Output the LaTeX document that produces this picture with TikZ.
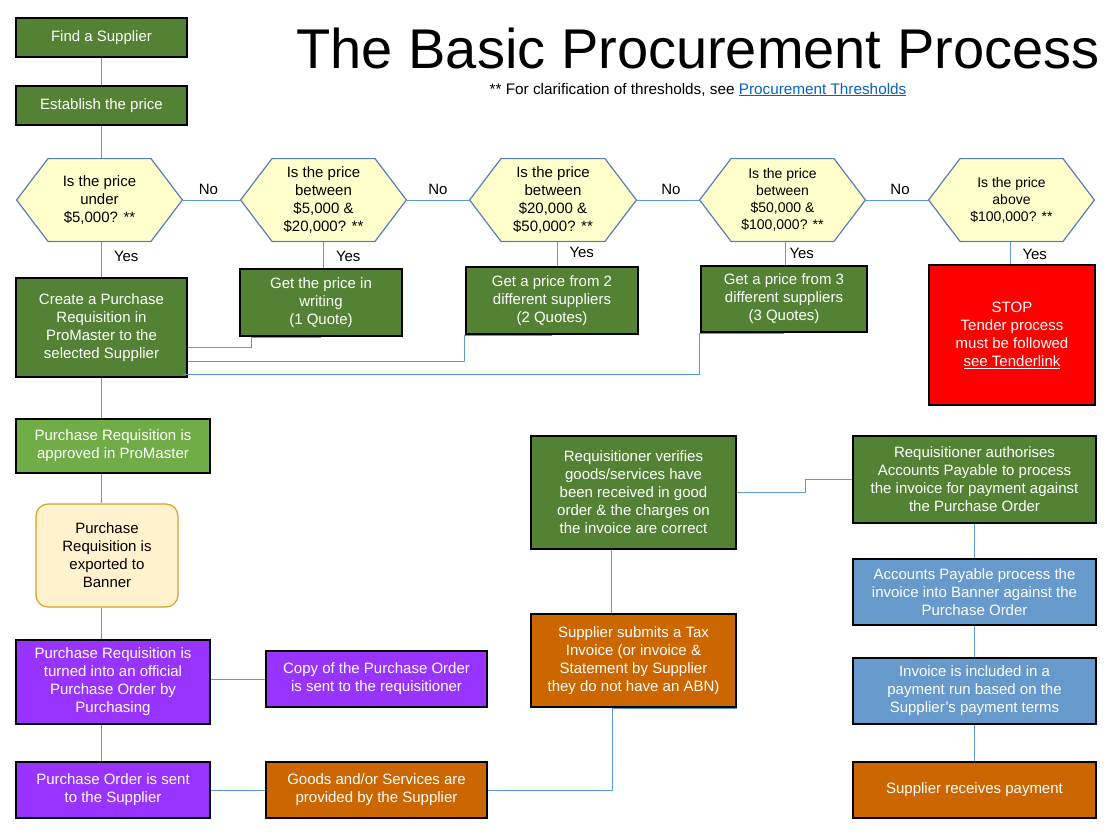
\documentclass[tikz,border=0pt]{standalone}
\usepackage{fontspec}
\setmainfont{Liberation Sans}
\usetikzlibrary{positioning}

\definecolor{boxgreen}{HTML}{548235}
\definecolor{lightgreen}{HTML}{70AD47}
\definecolor{boxpurple}{HTML}{9933FF}
\definecolor{boxorange}{HTML}{CC6600}
\definecolor{boxblue}{HTML}{6699CC}
\definecolor{stopred}{HTML}{FF0000}
\definecolor{hexfill}{HTML}{FFFFCC}
\definecolor{hexline}{HTML}{5A7DB5}
\definecolor{linkblue}{HTML}{5B9BD5}
\definecolor{creamfill}{HTML}{FFF2CC}
\definecolor{creamline}{HTML}{D6A12B}
\definecolor{urlblue}{HTML}{0563C1}

\tikzset{
  every node/.style={font=\fontsize{15}{18}\selectfont},
  procbox/.style={draw=black, line width=2.5pt, text=white, align=center, inner sep=0pt},
  hexq/.style={minimum width=167pt, minimum height=84pt, inner sep=0pt, align=center, text=black,
    path picture={\path[fill=hexfill, draw=hexline, line width=1.2pt]
      ([xshift=0.6pt]path picture bounding box.west)
      -- ([xshift=32pt,yshift=-0.6pt]path picture bounding box.north west)
      -- ([xshift=-32pt,yshift=-0.6pt]path picture bounding box.north east)
      -- ([xshift=-0.6pt]path picture bounding box.east)
      -- ([xshift=-32pt,yshift=0.6pt]path picture bounding box.south east)
      -- ([xshift=32pt,yshift=0.6pt]path picture bounding box.south west) -- cycle;}},
  smallq/.style={font=\fontsize{14}{17}\selectfont},
  link/.style={draw=linkblue, line width=1pt},
  lbl/.style={text=black, inner sep=2pt},
  nolbl/.style={lbl, above, inner sep=5pt},
  yeslbl/.style={lbl, right, inner sep=0pt, xshift=12pt}
}

\begin{document}
\begin{tikzpicture}[x=1pt, y=-1pt]
    \useasboundingbox[fill=white] (0,0) rectangle (1114,835);

    \node[anchor=base] (title) at (698,68) {\fontsize{56}{60}\selectfont The Basic Procurement Process};
    \node[anchor=base] (note) at (698,94) {\fontsize{15.3}{18}\selectfont ** For clarification of thresholds, see \textcolor{urlblue}{\underline{Procurement Thresholds}}};

    \node[procbox, fill=boxgreen, minimum width=171pt, minimum height=39pt] (find) at (101.5,37.5) {Find a Supplier};
    \node[procbox, fill=boxgreen, minimum width=171pt, minimum height=39pt] (est) at (101.5,105.5) {Establish the price};

    \node[hexq] (h1) at (99.5,200) {Is the price\\under\\\$5,000? **};
    \node[hexq] (h2) at (323.5,200) {Is the price\\between\\\$5,000 \&\\\$20,000? **};
    \node[hexq, minimum width=168pt] (h3) at (553,200) {Is the price\\between\\\$20,000 \&\\\$50,000? **};
    \node[hexq, smallq] (h4) at (782.5,200) {Is the price\\between\\\$50,000 \&\\\$100,000? **};
    \node[hexq, smallq] (h5) at (1011.5,200) {Is the price\\above\\\$100,000? **};

    \node[procbox, fill=boxgreen, minimum width=171pt, minimum height=99pt] (cpr) at (101.5,327.5) {Create a Purchase\\Requisition in\\ProMaster to the\\selected Supplier};
    \node[procbox, fill=boxgreen, minimum width=162pt, minimum height=67pt] (q1) at (321,302.5) {Get the price in\\writing\\(1 Quote)};
    \node[procbox, fill=boxgreen, minimum width=172pt, minimum height=67pt] (q2) at (552,300.5) {Get a price from 2\\different suppliers\\(2 Quotes)};
    \node[procbox, fill=boxgreen, minimum width=166pt, minimum height=66pt] (q3) at (784,299) {Get a price from 3\\different suppliers\\(3 Quotes)};
    \node[procbox, fill=stopred, minimum width=166pt, minimum height=140pt] (stop) at (1012,335) {STOP\\Tender process\\must be followed\\\underline{see Tenderlink}};

    \node[procbox, fill=lightgreen, minimum width=194pt, minimum height=54pt] (appr) at (113,446) {Purchase Requisition is\\approved in ProMaster};
    \node[draw=creamline, fill=creamfill, line width=1.2pt, rounded corners=12pt, align=center, inner sep=0pt, minimum width=142pt, minimum height=103pt] (expo) at (107,555.5) {Purchase\\Requisition is\\exported to\\Banner};
    \node[procbox, fill=boxpurple, minimum width=194pt, minimum height=84pt] (turn) at (113,682) {Purchase Requisition is\\turned into an official\\Purchase Order by\\Purchasing};
    \node[procbox, fill=boxpurple, minimum width=221pt, minimum height=56pt] (copy) at (376.5,679) {Copy of the Purchase Order\\is sent to the requisitioner};
    \node[procbox, fill=boxpurple, minimum width=194pt, minimum height=56pt] (posent) at (113,790) {Purchase Order is sent\\to the Supplier};
    \node[procbox, fill=boxorange, minimum width=221pt, minimum height=56pt] (goods) at (376.5,790) {Goods and/or Services are\\provided by the Supplier};

    \node[procbox, fill=boxgreen, minimum width=205pt, minimum height=113pt] (verif) at (633.5,492.5) {Requisitioner verifies\\goods/services have\\been received in good\\order \& the charges on\\the invoice are correct};
    \node[procbox, fill=boxorange, minimum width=205pt, minimum height=93pt] (subm) at (633.5,660.5) {Supplier submits a Tax\\Invoice (or invoice \&\\Statement by Supplier\\they do not have an ABN)};
    \node[procbox, fill=boxgreen, minimum width=243pt, minimum height=87pt] (auth) at (974.5,479.5) {Requisitioner authorises\\Accounts Payable to process\\the invoice for payment against\\the Purchase Order};
    \node[procbox, fill=boxblue, minimum width=243pt, minimum height=66pt] (approc) at (974.5,592) {Accounts Payable process the\\invoice into Banner against the\\Purchase Order};
    \node[procbox, fill=boxblue, minimum width=243pt, minimum height=66pt] (incl) at (974.5,691) {Invoice is included in a\\payment run based on the\\Supplier's payment terms};
    \node[procbox, fill=boxorange, minimum width=243pt, minimum height=56pt] (paid) at (974.5,790) {Supplier receives payment};

    \draw[link] (find.south) -- (est.north);
    \draw[link] (est.south) -- (est.south |- h1.north);
    \draw[link] (h1.east) -- node[nolbl, xshift=-3pt] {No} (h2.west);
    \draw[link] (h2.east) -- node[nolbl] {No} (h3.west);
    \draw[link] (h3.east) -- node[nolbl, xshift=3pt] {No} (h4.west);
    \draw[link] (h4.east) -- node[nolbl, xshift=3pt] {No} (h5.west);
    \draw[link] (cpr.north |- h1.south) -- node[yeslbl, pos=0.42] {Yes} (cpr.north);
    \draw[link] (h2.south) -- node[yeslbl, pos=0.55] {Yes} (h2.south |- q1.north);
    \draw[link] ([xshift=4pt]h3.south) -- node[yeslbl, pos=0.45] {Yes} ([xshift=4pt]h3.south |- q2.north);
    \draw[link] ([xshift=2.5pt]h4.south) -- node[yeslbl, xshift=-8pt, pos=0.5] {Yes} ([xshift=2.5pt]h4.south |- q3.north);
    \draw[link] ([xshift=-1.5pt]h5.south) -- node[yeslbl, pos=0.55] {Yes} ([xshift=-1.5pt]h5.south |- stop.north);

    \draw[link] (q1.south) -- ++(-70,0) |- ([yshift=-19.5pt]cpr.east);
    \draw[link] (q2.south) -- (q2.south west) |- ([yshift=-33.5pt]cpr.east);
    \draw[link] (q3.south) -- (q3.south west) |- ([xshift=-5pt,yshift=-46.5pt]cpr.east);

    \draw[link] (cpr.south) -- (cpr.south |- appr.north);
    \draw[link] (appr.south -| find) -- (expo.north -| find);
    \draw[link] (expo.south -| find) -- (turn.north -| find);
    \draw[link] (turn.south -| find) -- (posent.north -| find);
    \draw[link] (copy.west) -- (copy.west -| turn.east);
    \draw[link] (posent.east) -- (goods.west);
    \draw[link] (subm.south east) -- ++(-125,0) |- (goods.east);
    \draw[link] ([xshift=-22.5pt]verif.south) -- ([xshift=-22.5pt]subm.north);
    \draw[link] (verif.east) -- ++(68,0) |- (auth.west);
    \draw[link] (auth.south) -- (approc.north);
    \draw[link] (approc.south) -- (incl.north);
    \draw[link] (incl.south) -- (paid.north);
\end{tikzpicture}
\end{document}
